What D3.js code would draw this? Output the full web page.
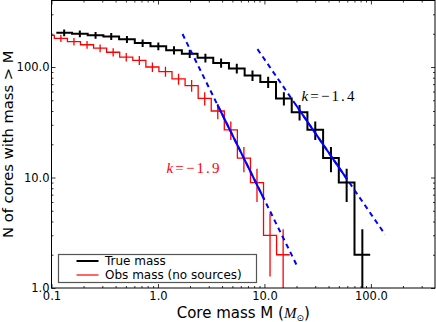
<!DOCTYPE html>
<html><head><meta charset="utf-8">
<script src="https://cdn.jsdelivr.net/npm/d3@7"></script>
<style>body{margin:0;background:#fff} svg{display:block}</style>
</head><body><svg id="c" width="436" height="322"></svg>
<script>
// ---- data ----
const trueMass  = [0.1315,0.1846,0.2593,0.3640,0.5111,0.7178,1.008,1.415,1.987,2.790,3.917,5.500,7.723,10.84,15.23,21.38,30.02,42.15,59.19,83.1];
const trueCount = [204,200,194,189,178,165,154,142,132,121,109,97,84,73,52,39,27,15,9,2];
const trueErr   = [14.28,14.14,13.93,13.75,13.34,12.85,12.41,11.92,11.49,11.00,10.44,9.85,9.17,8.54,7.21,6.24,5.20,3.87,3.00,1.41];
const obsMass   = [0.0923,0.1225,0.1625,0.2157,0.2861,0.3796,0.5037,0.6683,0.8865,1.176,1.561,2.071,2.748,3.645,4.836,6.416,8.513,11.29,14.99];
const obsCount  = [193,182,170,159,148,136,123,115,100,91,78,68,52,40,27,15,9,3,2];
const obsErr    = [13.89,13.49,13.04,12.61,12.17,11.66,11.09,10.72,10.00,9.54,8.83,8.25,7.21,6.32,5.20,3.87,3.00,1.73,1.41];
const fitSlope   = [-1.4, -1.95];
const fitAnchorM = [34.0, 6.0];
const fitAnchorN = [21.2, 17.0];
const fitDashRange  = [[8.6,136],[1.70,20.4]];
const fitSolidRange = [[19.7,59.8],[3.62,9.93]];
const fitLabels = ["\u22121.4","\u22121.9"];
const xTickValues = [0.1,1,10,100];
const xTickLabels = ["0.1","1.0","10.0","100.0"];
const yTickValues = [1,10,100];
const yTickLabels = ["1.0","10.0","100.0"];
const seriesNames = ["True mass","Obs mass (no sources)"];

// ---- layout ----
const L=51.5, R=435, T=0.5, B=288;
const svg=d3.select("#c");
const x=d3.scaleLog().domain([0.1,400]).range([L,R]);
const y=d3.scaleLog().domain([1,400]).range([B,T]);

svg.append("defs").append("clipPath").attr("id","clip")
  .append("rect").attr("x",L).attr("y",T).attr("width",R-L).attr("height",B-T);

function minorTicks(lo,hi){const v=[];for(let d=-1;d<=2;d++)for(let k=2;k<=9;k++){const t=k*Math.pow(10,d);if(t>lo&&t<hi)v.push(+t.toPrecision(3));}return v;}
const xMinor=minorTicks(0.1,400), yMinor=minorTicks(1,400);

function styleAxis(g){g.select(".domain").remove();g.selectAll("line").attr("stroke","#000").attr("stroke-width",0.8);
  g.selectAll("text").attr("font-family","DejaVu Sans").attr("font-size","11.5px").attr("fill","#000");}

// bottom
svg.append("g").attr("transform",`translate(0,${B})`)
  .call(d3.axisBottom(x).tickValues(xTickValues).tickFormat((d,i)=>xTickLabels[i]).tickSize(-4).tickPadding(4)).call(styleAxis);
svg.append("g").attr("transform",`translate(0,${B})`)
  .call(d3.axisBottom(x).tickValues(xMinor).tickFormat("").tickSize(-2)).call(styleAxis);
// top
svg.append("g").attr("transform",`translate(0,${T})`)
  .call(d3.axisTop(x).tickValues(xTickValues).tickFormat("").tickSize(-4)).call(styleAxis);
svg.append("g").attr("transform",`translate(0,${T})`)
  .call(d3.axisTop(x).tickValues(xMinor).tickFormat("").tickSize(-2)).call(styleAxis);
// left
svg.append("g").attr("transform",`translate(${L},0)`)
  .call(d3.axisLeft(y).tickValues(yTickValues).tickFormat((d,i)=>yTickLabels[i]).tickSize(-4).tickPadding(2)).call(styleAxis);
svg.append("g").attr("transform",`translate(${L},0)`)
  .call(d3.axisLeft(y).tickValues(yMinor).tickFormat("").tickSize(-2)).call(styleAxis);
// right
svg.append("g").attr("transform",`translate(${R},0)`)
  .call(d3.axisRight(y).tickValues(yTickValues).tickFormat("").tickSize(-4)).call(styleAxis);
svg.append("g").attr("transform",`translate(${R},0)`)
  .call(d3.axisRight(y).tickValues(yMinor).tickFormat("").tickSize(-2)).call(styleAxis);

// ---- data marks ----
const plot=svg.append("g").attr("clip-path","url(#clip)");
function edges(ms){const l=ms.map(Math.log10),n=l.length,e=[l[0]-(l[1]-l[0])/2];
  for(let i=1;i<n;i++)e.push((l[i-1]+l[i])/2);e.push(l[n-1]+(l[n-1]-l[n-2])/2);return e.map(v=>Math.pow(10,v));}
const line=d3.line().x(d=>x(d[0])).y(d=>y(d[1]));
function drawSeries(ms,ns,es,color,w){
  const e=edges(ms),pts=[];
  ns.forEach((n,i)=>{pts.push([e[i],n]);pts.push([e[i+1],n]);});
  plot.append("path").attr("d",line(pts)).attr("fill","none").attr("stroke",color).attr("stroke-width",w);
  plot.selectAll(null).data(ms.map((m,i)=>({m,n:ns[i],e:es[i]}))).enter().append("line")
    .attr("x1",d=>x(d.m)).attr("x2",d=>x(d.m))
    .attr("y1",d=>y(d.n+d.e)).attr("y2",d=>y(Math.max(d.n-d.e,0.01)))
    .attr("stroke",color).attr("stroke-width",w);
}
drawSeries(trueMass,trueCount,trueErr,"#000",2);
drawSeries(obsMass,obsCount,obsErr,"#ff0000",1.3);

// fits
fitSlope.forEach((k,i)=>{
  const f=m=>fitAnchorN[i]*Math.pow(m/fitAnchorM[i],k);
  const dr=fitDashRange[i], sr=fitSolidRange[i];
  plot.append("path").attr("d",line([[dr[0],f(dr[0])],[dr[1],f(dr[1])]]))
    .attr("stroke","#0000ff").attr("stroke-width",2).attr("stroke-dasharray","5,4").attr("fill","none");
  plot.append("path").attr("d",line([[sr[0],f(sr[0])],[sr[1],f(sr[1])]]))
    .attr("stroke","#0000ff").attr("stroke-width",2).attr("fill","none");
});

// fit labels
const labPos=[[301.5,101,"#000"],[166.5,173,"#ff0000"]];
fitLabels.forEach((t,i)=>{
  const tx=svg.append("text").attr("x",labPos[i][0]).attr("y",labPos[i][1]).attr("fill",labPos[i][2])
    .attr("font-family","Liberation Serif").attr("font-size","15px")
    .attr("textLength",53).attr("lengthAdjust","spacing");
  tx.append("tspan").attr("font-style","italic").text("k");
  tx.append("tspan").text("="+t);
});

// frame
svg.append("rect").attr("x",L).attr("y",T).attr("width",R-L).attr("height",B-T)
  .attr("fill","none").attr("stroke","#000").attr("stroke-width",1);

// legend
const lg=svg.append("g");
lg.append("rect").attr("x",58.5).attr("y",254.5).attr("width",198).attr("height",28)
  .attr("fill","#fff").attr("stroke","#555").attr("stroke-width",1.2);
const legColors=["#000","#ff0000"], legW=[2,1.2];
seriesNames.forEach((s,i)=>{
  const yy=261+i*14;
  lg.append("line").attr("x1",76.5).attr("x2",98.5).attr("y1",yy).attr("y2",yy)
    .attr("stroke",legColors[i]).attr("stroke-width",legW[i]);
  lg.append("text").attr("x",105).attr("y",yy).attr("dy","0.36em")
    .attr("font-family","DejaVu Sans").attr("font-size","12px").text(s);
});

// axis labels
const xl=svg.append("text").attr("x",(L+R)/2).attr("y",317.5).attr("text-anchor","middle")
  .attr("font-family","DejaVu Sans").attr("font-size","15px");
xl.append("tspan").text("Core mass M (");
xl.append("tspan").attr("font-family","Liberation Serif").attr("font-style","italic").text("M");
xl.append("tspan").attr("font-size","9px").attr("dy",3).text("\u2299");
xl.append("tspan").attr("dy",-3).text(")");

svg.append("text").attr("transform",`translate(12.7,${(T+B)/2}) rotate(-90)`).attr("text-anchor","middle")
  .attr("font-family","DejaVu Sans").attr("font-size","14.7px").text("N of cores with mass > M");
</script></body></html>
